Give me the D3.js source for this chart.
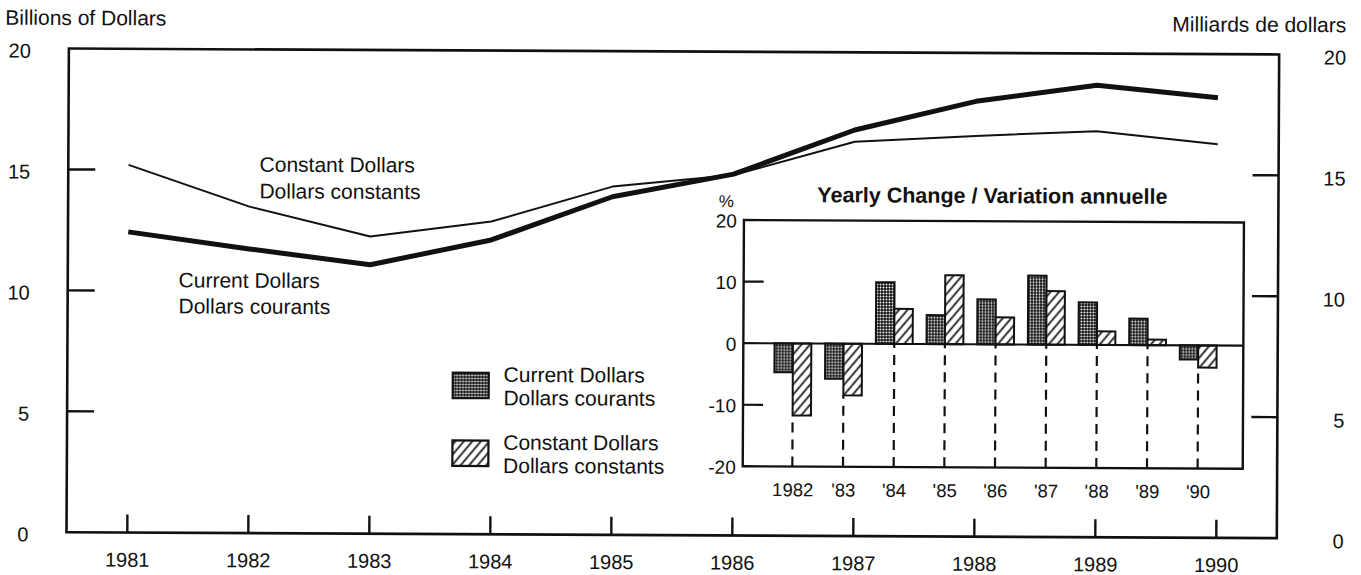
<!DOCTYPE html>
<html>
<head>
<meta charset="utf-8">
<script src="https://cdn.jsdelivr.net/npm/d3@7/dist/d3.min.js"></script>
<style>
  html, body { margin: 0; padding: 0; background: #fff; }
  svg { display: block; }
  text { font-family: "Liberation Sans", Arial, Helvetica, sans-serif; fill: #111; }
</style>
</head>
<body>
<svg id="chart" width="1361" height="575"></svg>
<script>
// ---------------- data ----------------
const years = [1981, 1982, 1983, 1984, 1985, 1986, 1987, 1988, 1989, 1990];
const currentDollars  = [12.43, 11.75, 11.12, 12.17, 13.98, 14.94, 16.79, 18.00, 18.69, 18.20];
const constantDollars = [15.20, 13.50, 12.29, 12.93, 14.40, 14.90, 16.30, 16.57, 16.79, 16.27];
const mainYTicks = [0, 5, 10, 15, 20];

const changeYears = [1982, 1983, 1984, 1985, 1986, 1987, 1988, 1989, 1990];
const changeLabels = ["1982", "'83", "'84", "'85", "'86", "'87", "'88", "'89", "'90"];
const changeCurrent  = [-4.7, -5.7, 10.0, 4.7, 7.3, 11.2, 6.9, 4.3, -2.3];
const changeConstant = [-11.7, -8.4, 5.7, 11.2, 4.4, 8.7, 2.2, 0.9, -3.6];
const insetYTicks = [-20, -10, 0, 10, 20];

// ---------------- layout ----------------
const svg = d3.select("#chart");
const defs = svg.append("defs");
const dots = defs.append("pattern").attr("id", "dots").attr("patternUnits", "userSpaceOnUse")
  .attr("width", 3).attr("height", 3);
dots.append("rect").attr("width", 3).attr("height", 3).attr("fill", "#111");
dots.append("circle").attr("cx", 1.5).attr("cy", 1.5).attr("r", 0.95).attr("fill", "#fff");
const hatch = defs.append("pattern").attr("id", "hatch").attr("patternUnits", "userSpaceOnUse")
  .attr("width", 6.5).attr("height", 6.5).attr("patternTransform", "rotate(40)");
hatch.append("rect").attr("width", 6.5).attr("height", 6.5).attr("fill", "#fff");
hatch.append("line").attr("x1", 3.25).attr("x2", 3.25).attr("y1", -1).attr("y2", 8)
  .attr("stroke", "#111").attr("stroke-width", 1.7);

svg.append("rect").attr("width", 1361).attr("height", 575).attr("fill", "#fff");
const g = svg.append("g").attr("transform", "rotate(0.28,680,290)");

const L = 67.7, R = 1278, T = 51.5, B = 535.2;
const x = d3.scaleLinear().domain([1981, 1990]).range([128, 1217]);
const y = d3.scaleLinear().domain([0, 20]).range([B, T]);
const plain = d => String(d);

// titles
g.append("text").attr("x", 4).attr("y", 28).attr("font-size", 21).text("Billions of Dollars");
g.append("text").attr("x", 1345).attr("y", 29).attr("font-size", 21).attr("text-anchor", "end")
  .text("Milliards de dollars");

// frame
g.append("rect").attr("x", L).attr("y", T).attr("width", R - L).attr("height", B - T)
  .attr("fill", "none").attr("stroke", "#111").attr("stroke-width", 2.6);

// bottom axis
const xAxis = g.append("g").attr("transform", `translate(0,${B})`)
  .call(d3.axisBottom(x).tickValues(years).tickFormat(plain).tickSize(-18).tickPadding(20));
xAxis.select(".domain").remove();
xAxis.selectAll("line").attr("stroke", "#111").attr("stroke-width", 2.4);
xAxis.selectAll("text").attr("font-size", 20).attr("fill", "#111");

// left axis
const yl = g.append("g").attr("transform", `translate(${L},0)`)
  .call(d3.axisLeft(y).tickValues(mainYTicks).tickFormat(plain).tickSize(0).tickPadding(38));
yl.select(".domain").remove();
yl.selectAll("text").attr("font-size", 20).attr("fill", "#111").attr("y", 2.5);
// right axis
const yr = g.append("g").attr("transform", `translate(${R},0)`)
  .call(d3.axisRight(y).tickValues(mainYTicks).tickFormat(plain).tickSize(0).tickPadding(67));
yr.select(".domain").remove();
yr.selectAll("text").attr("font-size", 20).attr("fill", "#111").attr("text-anchor", "end").attr("y", 3);

// inner tick marks
const innerTicks = mainYTicks.filter(d => d > 0 && d < 20);
g.selectAll(".ltick").data(innerTicks).join("line")
  .attr("x1", L).attr("x2", L + 27).attr("y1", d => y(d)).attr("y2", d => y(d))
  .attr("stroke", "#111").attr("stroke-width", 2.4);
g.selectAll(".rtick").data(innerTicks).join("line")
  .attr("x1", R - 26).attr("x2", R).attr("y1", d => y(d)).attr("y2", d => y(d))
  .attr("stroke", "#111").attr("stroke-width", 2.4);

// lines
const line = d3.line().x((d, i) => x(years[i])).y(d => y(d));
g.append("path").datum(constantDollars).attr("d", line).attr("fill", "none")
  .attr("stroke", "#111").attr("stroke-width", 2).attr("stroke-linejoin", "round");
g.append("path").datum(currentDollars).attr("d", line).attr("fill", "none")
  .attr("stroke", "#111").attr("stroke-width", 5).attr("stroke-linejoin", "round");

// line labels
g.append("text").attr("x", 259).attr("y", 173.7).attr("font-size", 21).text("Constant Dollars");
g.append("text").attr("x", 259).attr("y", 200.4).attr("font-size", 21).text("Dollars constants");
g.append("text").attr("x", 178.6).attr("y", 289.8).attr("font-size", 21).text("Current Dollars");
g.append("text").attr("x", 178.6).attr("y", 315.8).attr("font-size", 21).text("Dollars courants");

// legend
const legend = [
  { fill: "url(#dots)", top: 373.7, l1: "Current Dollars", l2: "Dollars courants" },
  { fill: "url(#hatch)", top: 441.5, l1: "Constant Dollars", l2: "Dollars constants" }
];
legend.forEach(d => {
  g.append("rect").attr("x", 453.2).attr("y", d.top).attr("width", 36).attr("height", 25.5)
    .attr("fill", d.fill).attr("stroke", "#111").attr("stroke-width", 2.2);
  g.append("text").attr("x", 504).attr("y", d.top + 9).attr("font-size", 21).text(d.l1);
  g.append("text").attr("x", 504).attr("y", d.top + 32.3).attr("font-size", 21).text(d.l2);
});

// ---------------- inset ----------------
const IL = 743.6, IR = 1243.6, IT = 219.7, IB = 466;
const xi = d3.scaleLinear().domain([1982, 1990]).range([793.2, 1198.5]);
const yi = d3.scaleLinear().domain([-20, 20]).range([IB, IT]);
const bw = 18.4;

g.append("text").attr("x", 992).attr("y", 201.5).attr("font-size", 21.5).attr("font-weight", "bold")
  .attr("text-anchor", "middle").text("Yearly Change / Variation annuelle");
g.append("text").attr("x", 726).attr("y", 206.8).attr("font-size", 17).attr("text-anchor", "middle").text("%");

g.append("rect").attr("x", IL).attr("y", IT).attr("width", IR - IL).attr("height", IB - IT)
  .attr("fill", "#fff").attr("stroke", "#111").attr("stroke-width", 2.4);

// inset left labels
const iy = g.append("g").attr("transform", `translate(${IL},0)`)
  .call(d3.axisLeft(yi).tickValues(insetYTicks).tickFormat(plain).tickSize(0).tickPadding(7));
iy.select(".domain").remove();
iy.selectAll("text").attr("font-size", 19).attr("fill", "#111").attr("y", 1);
g.selectAll(".itick").data(insetYTicks.filter(d => d === 10 || d === -10)).join("line")
  .attr("x1", IL).attr("x2", IL + 20).attr("y1", d => yi(d)).attr("y2", d => yi(d))
  .attr("stroke", "#111").attr("stroke-width", 2.2);

// dashed drop lines
g.selectAll(".drop").data(changeYears).join("line")
  .attr("x1", d => xi(d)).attr("x2", d => xi(d))
  .attr("y1", IB)
  .attr("y2", (d, i) => yi(Math.min(0, changeCurrent[i], changeConstant[i])))
  .attr("stroke", "#111").attr("stroke-width", 2.2).attr("stroke-dasharray", "10,7");

// bars
g.selectAll(".barc").data(changeCurrent).join("rect")
  .attr("x", (d, i) => xi(changeYears[i]) - bw).attr("width", bw)
  .attr("y", d => yi(Math.max(0, d))).attr("height", d => Math.abs(yi(d) - yi(0)))
  .attr("fill", "url(#dots)").attr("stroke", "#111").attr("stroke-width", 2);
g.selectAll(".bark").data(changeConstant).join("rect")
  .attr("x", (d, i) => xi(changeYears[i])).attr("width", bw)
  .attr("y", d => yi(Math.max(0, d))).attr("height", d => Math.abs(yi(d) - yi(0)))
  .attr("fill", "url(#hatch)").attr("stroke", "#111").attr("stroke-width", 2);

// zero line
g.append("line").attr("x1", IL).attr("x2", IR).attr("y1", yi(0)).attr("y2", yi(0))
  .attr("stroke", "#111").attr("stroke-width", 2.2);

// inset x labels
const ix = g.append("g").attr("transform", `translate(0,${IB})`)
  .call(d3.axisBottom(xi).tickValues(changeYears).tickFormat((d, i) => changeLabels[i]).tickSize(0).tickPadding(16.5));
ix.select(".domain").remove();
ix.selectAll("text").attr("font-size", 18.5).attr("fill", "#111");
</script>
</body>
</html>
